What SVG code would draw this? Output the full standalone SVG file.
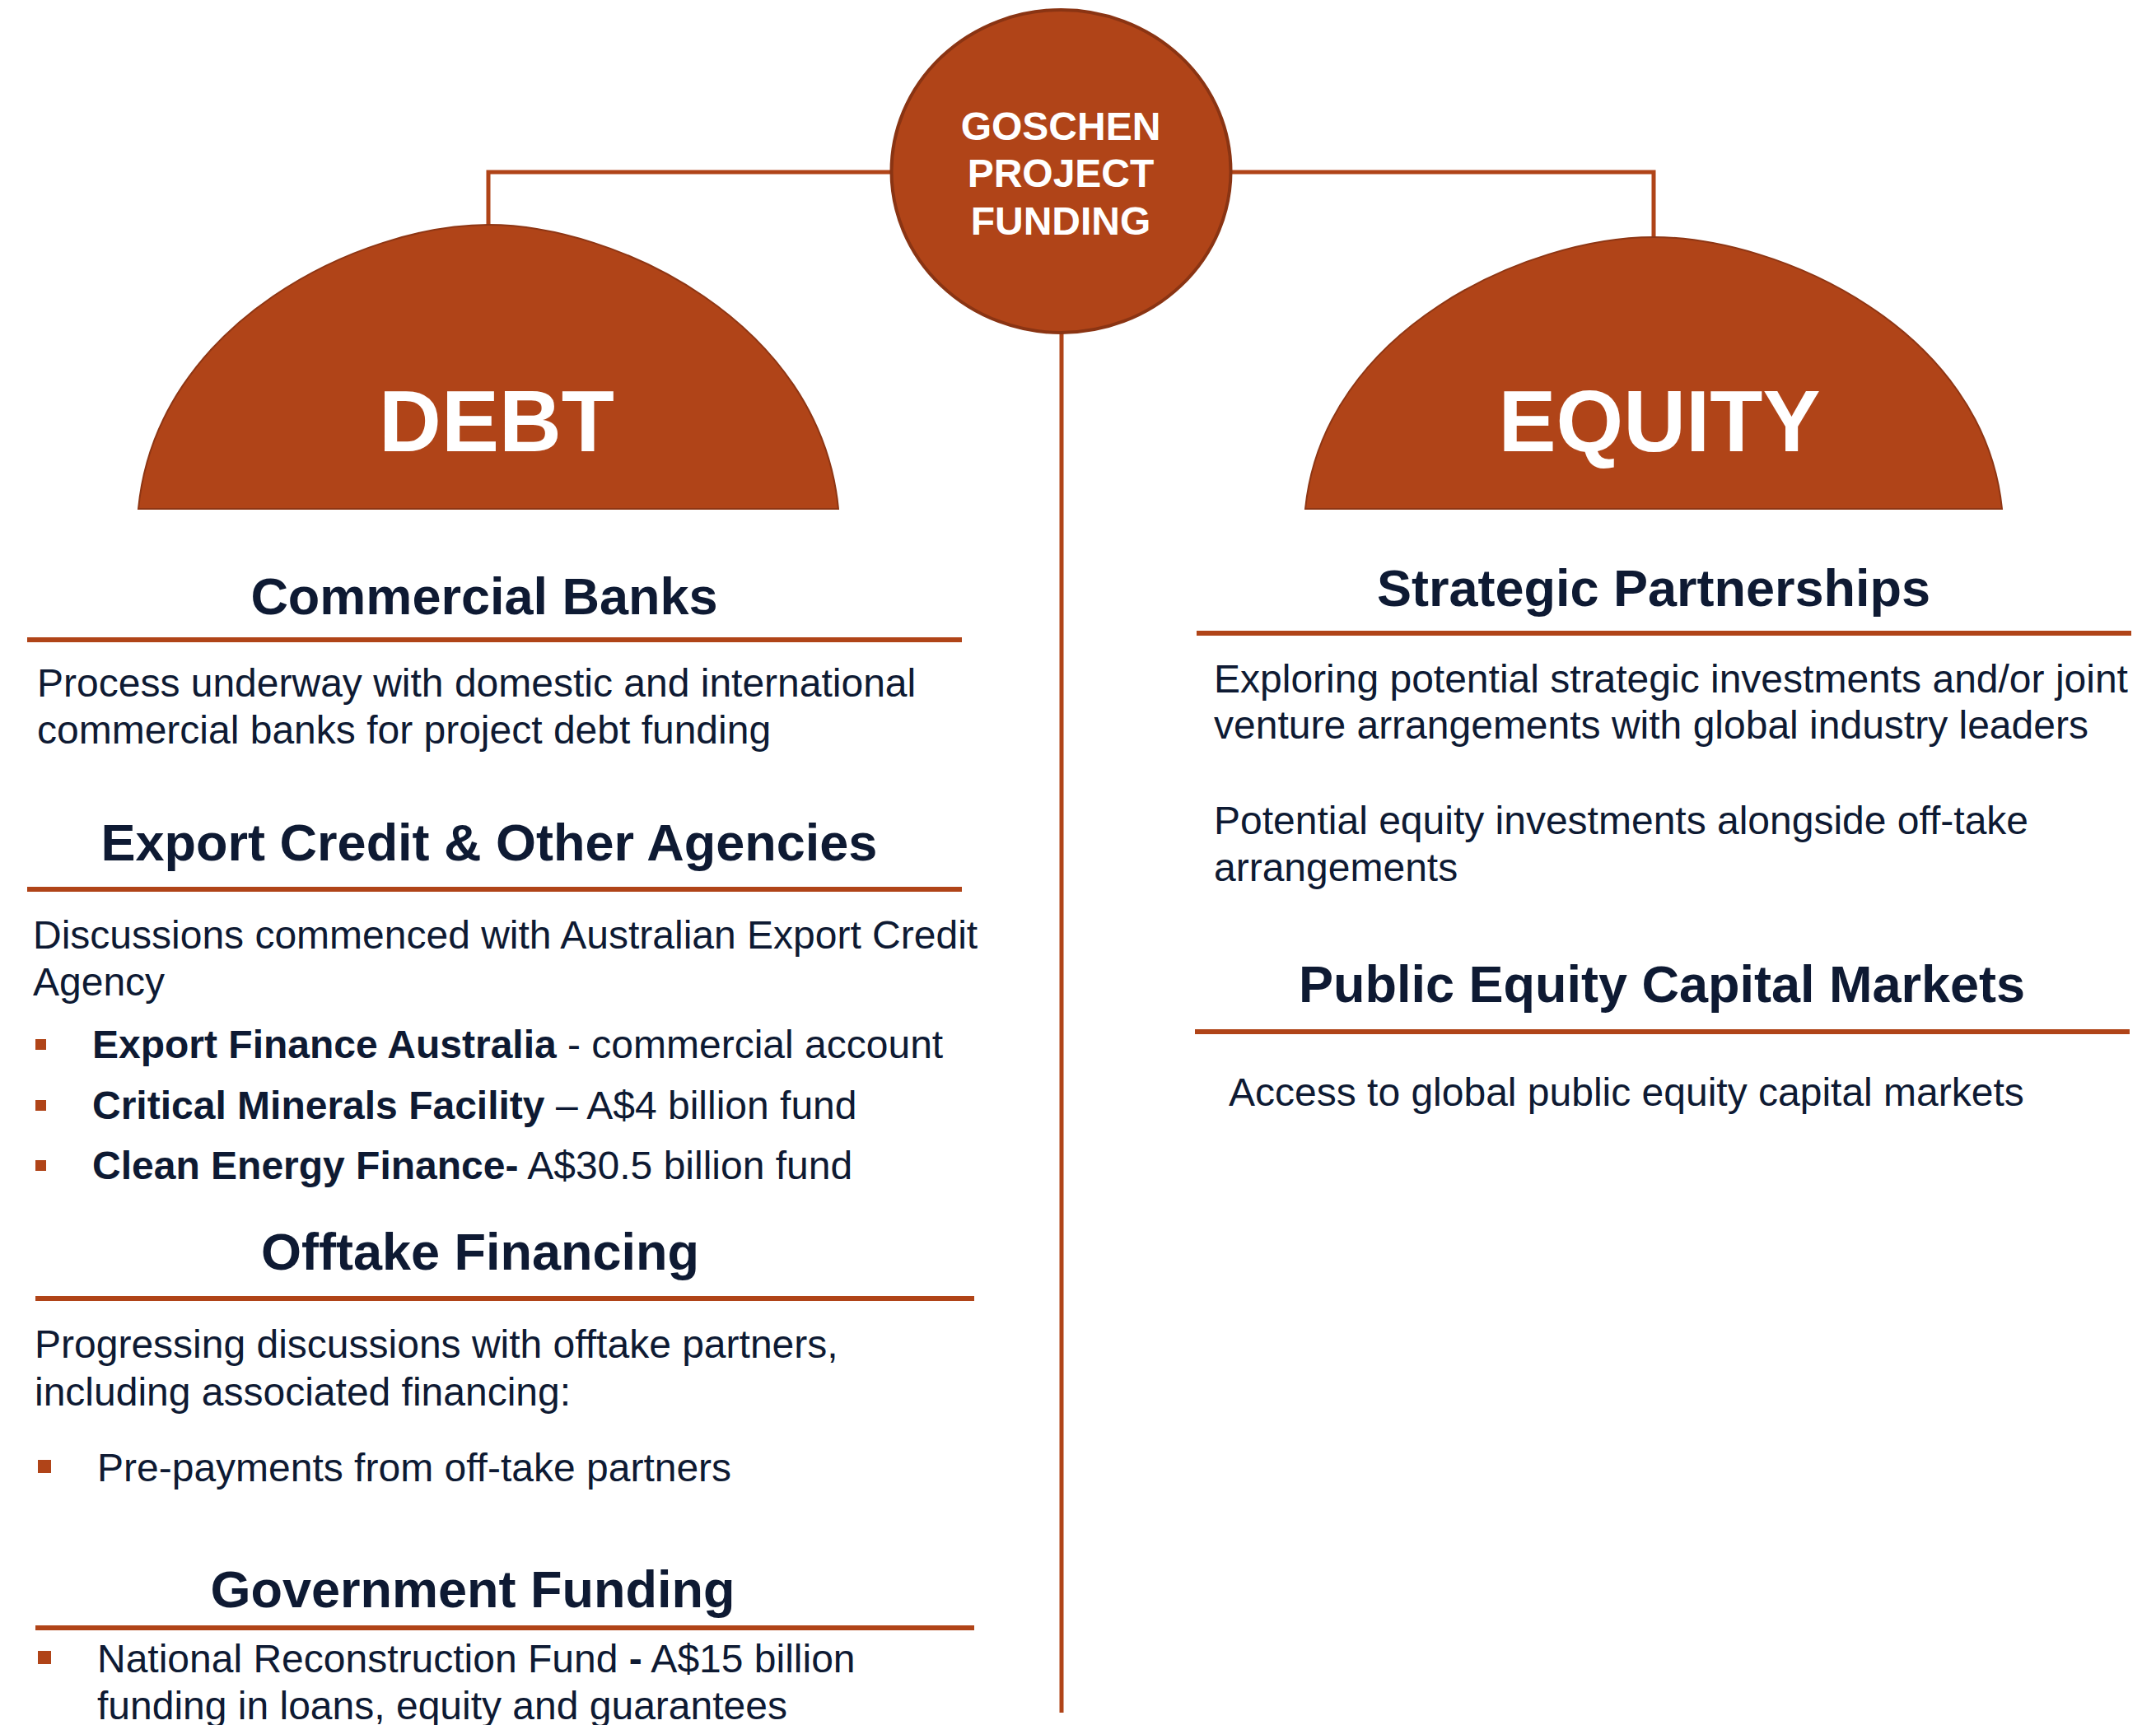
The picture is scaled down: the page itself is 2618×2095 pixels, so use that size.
<svg xmlns="http://www.w3.org/2000/svg" width="2618" height="2095" viewBox="0 0 2618 2095">
  <style>
    .head { font-family: "Liberation Sans", Arial, sans-serif; font-weight: bold; font-size: 63px; fill: #0E1A33; text-anchor: middle; }
    .body { font-family: "Liberation Sans", Arial, sans-serif; font-size: 48px; fill: #0E1A33; }
    .b { font-weight: bold; }
    .rule { fill: #B04418; }
    .bullet { fill: #B04418; }
    .dome { fill: #B04418; stroke: #8E3614; stroke-width: 2; }
    .domeText { font-family: "Liberation Sans", Arial, sans-serif; font-weight: bold; font-size: 105px; fill: #FFFFFF; text-anchor: middle; }
    .hubText { font-family: "Liberation Sans", Arial, sans-serif; font-weight: bold; font-size: 48px; fill: #FFFFFF; text-anchor: middle; }
    .conn { fill: none; stroke: #B04418; stroke-width: 5; }
  </style>
  <rect width="2618" height="2095" fill="#FFFFFF"/>

  <!-- connectors -->
  <g id="connectors">
    <path class="conn" d="M593,274 V209 H1090"/>
    <path class="conn" d="M1490,209 H2008 V289"/>
    <path class="conn" d="M1289,400 V2080"/>
  </g>

  <!-- central hub -->
  <g id="hub">
    <ellipse cx="1288.5" cy="208" rx="206" ry="196" fill="#B04418" stroke="#8A3413" stroke-width="4"/>
    <text class="hubText" x="1288" y="170">GOSCHEN</text>
    <text class="hubText" x="1288" y="227">PROJECT</text>
    <text class="hubText" x="1288" y="285">FUNDING</text>
  </g>

  <!-- debt dome -->
  <g id="debt">
    <path class="dome" d="M168,618 C190,390 440,273 593,273 C746,273 996,390 1018,618 Z"/>
    <text class="domeText" x="603" y="548">DEBT</text>
  </g>

  <!-- equity dome -->
  <g id="equity">
    <path class="dome" d="M1585,618 C1607,400 1855,288 2008,288 C2161,288 2409,400 2431,618 Z"/>
    <text class="domeText" x="2015" y="548">EQUITY</text>
  </g>

  <!-- debt sections -->
  <g id="commercial-banks">
    <text class="head" x="588" y="746">Commercial Banks</text>
    <rect class="rule" x="33" y="774" width="1135" height="6"/>
    <text class="body" x="45" y="846">Process underway with domestic and international</text>
    <text class="body" x="45" y="903">commercial banks for project debt funding</text>
  </g>

  <g id="export-credit">
    <text class="head" x="594" y="1045">Export Credit &amp; Other Agencies</text>
    <rect class="rule" x="33" y="1077" width="1135" height="6"/>
    <text class="body" x="40" y="1152">Discussions commenced with Australian Export Credit</text>
    <text class="body" x="40" y="1209">Agency</text>
    <rect class="bullet" x="43" y="1262" width="13" height="13"/>
    <text class="body" x="112" y="1285"><tspan class="b">Export Finance Australia</tspan> - commercial account</text>
    <rect class="bullet" x="43" y="1336" width="13" height="13"/>
    <text class="body" x="112" y="1359"><tspan class="b">Critical Minerals Facility</tspan> – A$4 billion fund</text>
    <rect class="bullet" x="43" y="1409" width="13" height="13"/>
    <text class="body" x="112" y="1432"><tspan class="b">Clean Energy Finance-</tspan> A$30.5 billion fund</text>
  </g>

  <g id="offtake-financing">
    <text class="head" x="583" y="1542">Offtake Financing</text>
    <rect class="rule" x="43" y="1574" width="1140" height="6"/>
    <text class="body" x="42" y="1649">Progressing discussions with offtake partners,</text>
    <text class="body" x="42" y="1707">including associated financing:</text>
    <rect class="bullet" x="46" y="1773" width="16" height="16"/>
    <text class="body" x="118" y="1799">Pre-payments from off-take partners</text>
  </g>

  <g id="government-funding">
    <text class="head" x="574" y="1952">Government Funding</text>
    <rect class="rule" x="43" y="1974" width="1140" height="6"/>
    <rect class="bullet" x="46" y="2005" width="16" height="16"/>
    <text class="body" x="118" y="2031">National Reconstruction Fund <tspan class="b">-</tspan> A$15 billion</text>
    <text class="body" x="118" y="2088">funding in loans, equity and guarantees</text>
  </g>

  <!-- equity sections -->
  <g id="strategic-partnerships">
    <text class="head" x="2008" y="736">Strategic Partnerships</text>
    <rect class="rule" x="1453" y="766" width="1135" height="6"/>
    <text class="body" x="1474" y="841">Exploring potential strategic investments and/or joint</text>
    <text class="body" x="1474" y="897">venture arrangements with global industry leaders</text>
    <text class="body" x="1474" y="1013">Potential equity investments alongside off-take</text>
    <text class="body" x="1474" y="1070">arrangements</text>
  </g>

  <g id="public-equity">
    <text class="head" x="2018" y="1217">Public Equity Capital Markets</text>
    <rect class="rule" x="1451" y="1250" width="1135" height="6"/>
    <text class="body" x="1492" y="1343">Access to global public equity capital markets</text>
  </g>
</svg>
